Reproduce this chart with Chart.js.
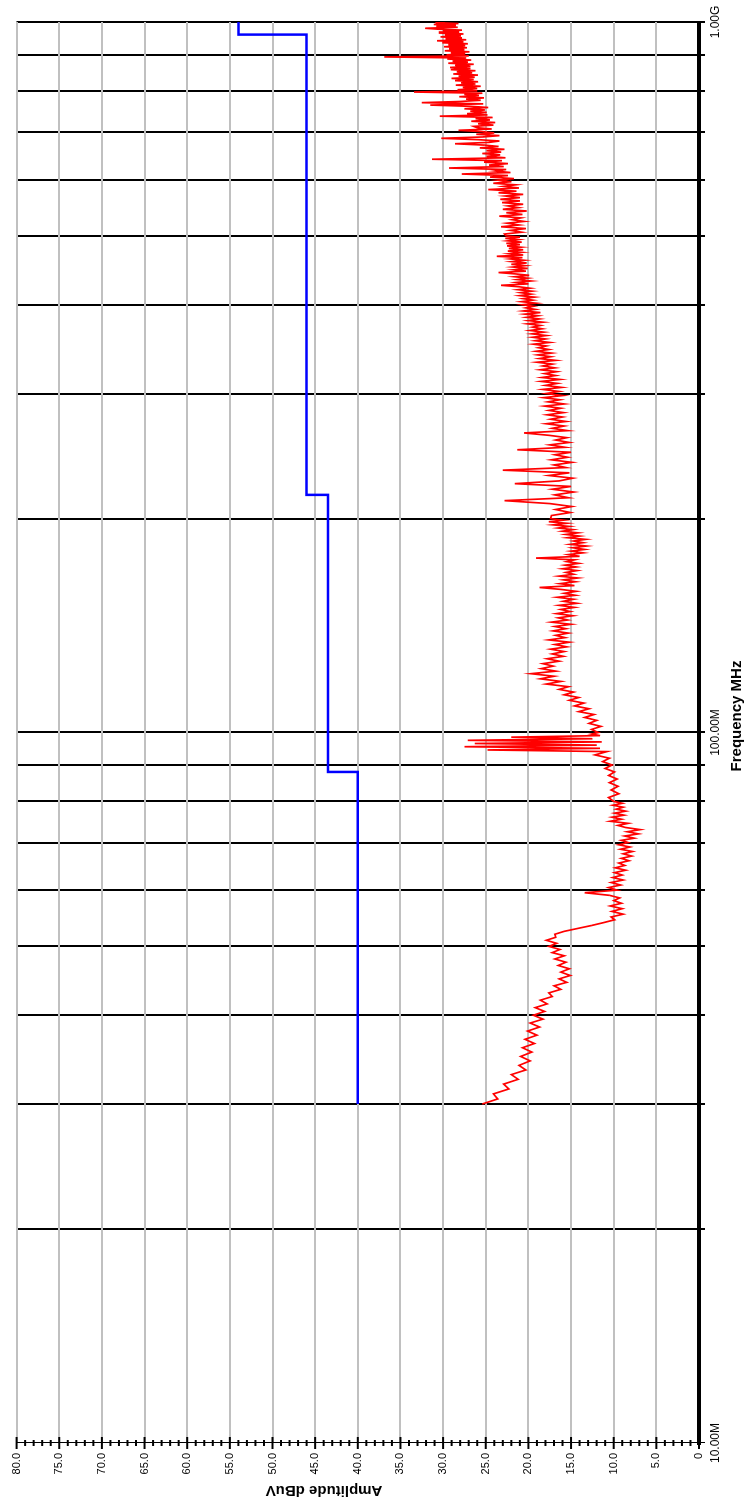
<!DOCTYPE html>
<html><head><meta charset="utf-8">
<script src="https://cdn.jsdelivr.net/npm/chart.js@4.4.1/dist/chart.umd.min.js"></script>
<style>
html,body{margin:0;padding:0;background:#fff;overflow:hidden;width:749px;height:1505px;}
#wrap{position:absolute;left:0;top:0;width:1505px;height:749px;transform-origin:0 0;transform:translateY(1505px) rotate(-90deg);}
canvas{display:block;}
</style></head><body>
<div id="wrap"><canvas id="c" width="1505" height="749"></canvas></div>
<script>
// ---- Axis definitions ----
const freqGrid = [10,20,30,40,50,60,70,80,90,100,200,300,400,500,600,700,800,900,1000];
const freqTickLabels = {10:'10.00M',100:'100.00M',1000:'1.00G'};
const ampTicks = [0,5,10,15,20,25,30,35,40,45,50,55,60,65,70,75,80];

// ---- Limit line (blue) ----
const limitFreq = [30,88,216,960,1000];
const limitAmp  = [40,43.5,46,54,54];

// ---- Measured trace (red), MHz / dBuV ----
const seg1Freq = [30,30.5,31,31.5,32,32.5,33,33.5,34,34.5,35,35.5,36,36.5,37,37.5,38,38.5,39,39.5,40,40.5,41,41.5,42,42.5,43,43.5,44,44.5,45,45.5,46,46.5,47,47.5,48,48.5,49,49.5,50,50.5,51,51.5,52,52.5,53,53.5,54,54.5,55,55.5,56,56.5,57,57.5,58,58.5,59,59.5,60,60.5,61,61.5,62,62.5,63,63.5,64,64.5,65,65.5,66,66.5,67,67.5,68,68.5,69,69.5,70,70.5,71,71.5,72,72.5,73,73.5,74,74.5,75,75.5,76,76.5,77,77.5,78,78.5,79,79.5,80];
const seg1Amp = [25.4,23.6,24.1,22.3,22.9,21.2,22.0,20.3,21.1,19.8,20.9,19.6,20.7,19.3,20.4,19.0,20.1,18.7,19.8,18.3,19.4,18.1,19.2,17.8,18.6,17.2,17.6,16.2,17.0,15.5,16.4,15.1,16.2,15.2,16.5,15.6,16.9,15.8,17.2,16.3,17.6,16.7,17.9,16.8,16.9,15.8,14.2,12.6,11.2,9.9,10.3,8.9,10.2,9.0,10.4,9.1,10.0,9.3,10.5,13.4,9.6,10.6,9.2,10.3,8.9,10.1,9.0,9.9,8.6,9.8,8.7,9.4,8.2,9.1,7.9,8.9,7.8,9.2,8.1,9.4,8.3,9.1,7.6,8.7,7.1,8.4,6.9,8.6,9.5,8.3,10.4,9.1,10.2,8.8,9.9,8.6,9.7,8.9,10.1,9.0,10.0];
const seg2Freq = [81,82,83,84,85,86,87,88,89,90,91,92,93,94,94.5,95,95.5,96,96.5,97,97.5,98,98.5,99,99.5,100];
const seg2Amp = [10.6,9.4,10.3,9.5,10.5,9.6,10.6,9.9,11.0,10.2,11.3,10.5,12.2,10.8,24.8,11.6,27.5,12.0,26.3,11.4,27.1,12.5,22.0,11.6,12.6,11.8];
const seg3Freq = [101,102,103,104,105,106,107,108,109,110,111,112,113,114,115,116,117,118,119,120,121,122,123,124,125,126,127,128,129,130,131,132,133,134,135,136,137,138,139,140,141,142,143,144,145,146,147,148,149,150,151,152,153,154,155,156,157,158,159,160,161,162,163,164,165,166,167,168,169,170,171,172,173,174,175,176,177,178,179,180,181,182,183,184,185,186,187,188,189,190,191,192,193,194,195,196,197,198,199,200];
const seg3Amp = [12.6,11.5,12.9,12.0,13.4,12.3,14.1,12.9,14.6,13.5,15.2,14.1,15.8,14.7,16.4,15.3,17.9,16.2,18.6,17.0,19.7,16.8,18.5,17.1,18.3,16.4,17.8,15.9,17.2,15.8,17.4,15.5,16.9,15.2,17.6,15.7,16.8,15.3,17.1,15.6,16.9,15.0,17.3,15.4,16.5,14.8,16.7,15.1,16.2,14.6,16.4,14.3,15.9,14.7,16.6,14.5,15.8,14.4,16.2,18.7,14.6,16.3,14.5,15.9,14.2,16.4,14.7,15.6,14.3,16.0,14.4,15.7,14.1,15.5,14.6,19.1,14.0,15.3,13.6,15.0,13.4,14.8,13.2,15.1,13.6,14.7,13.3,15.4,14.0,15.6,14.2,16.0,14.8,16.5,15.2,17.1,15.5,17.6,15.9,17.4];
const seg4Freq = [202,204,206,208,210,212,214,216,218,220,222,224,226,228,230,232,234,236,238,240,242,244,246,248,250,252,254,256,258,260,262,264,266,268,270,272,274,276,278,280,282,284,286,288,290,292,294,296,298,300,302,304,306,308,310,312,314,316,318,320,322,324,326,328,330,332,334,336,338,340,342,344,346,348,350,352,354,356,358,360,362,364,366,368,370,372,374,376,378,380,382,384,386,388,390,392,394,396,398,400,402,404,406,408,410,412,414,416,418,420,422,424,426,428,430,432,434,436,438,440,442,444,446,448,450,452,454,456,458,460,462,464,466,468,470,472,474,476,478,480,482,484,486,488,490,492,494,496,498,500];
const seg4Amp = [17.3,15.1,16.8,14.9,17.5,22.8,15.3,16.9,14.7,17.2,15.0,21.6,16.4,14.8,17.6,15.2,23.0,15.6,17.0,14.9,17.3,15.4,16.9,15.0,21.3,15.7,17.5,15.2,16.8,15.5,17.6,20.5,15.4,17.2,15.8,17.9,15.6,17.4,16.0,17.8,15.9,17.6,16.2,18.1,15.8,17.7,16.3,18.2,16.0,17.9,16.4,18.3,16.1,18.0,16.6,18.5,16.3,18.4,16.8,18.1,16.7,18.6,16.9,18.3,17.2,19.0,16.8,18.7,17.4,18.9,17.3,19.1,17.6,18.8,17.9,19.4,17.5,19.2,18.0,19.5,17.9,19.6,18.2,19.8,18.4,19.5,18.6,20.1,18.3,20.0,18.7,20.2,18.9,20.4,18.6,20.6,19.2,20.3,19.4,20.7,19.1,20.8,19.5,20.6,19.3,21.0,19.7,20.9,19.6,21.2,19.8,21.1,23.2,20.0,21.4,19.7,21.3,20.1,21.6,19.9,21.5,23.5,20.3,21.7,20.1,21.8,20.4,22.0,20.2,21.9,20.5,22.1,20.7,23.7,20.6,22.2,20.8,22.4,20.6,22.3,20.9,22.5,21.0,22.6,20.8,22.4,21.2,22.7,21.0,22.6];
const seg5Freq = [503,506,509,512,515,518,521,524,527,530,533,536,539,542,545,548,551,554,557,560,563,566,569,572,575,578,581,584,587,590,593,596,599,602,605,608,611,614,617,620,623,626,629,632,635,638,641,644,647,650,653,656,659,662,665,668,671,674,677,680,683,686,689,692,695,698,701,704,707,710,713,716,719,722,725,728,731,734,737,740,743,746,749,752,755,758,761,764,767,770,773,776,779,782,785,788,791,794,797,800,803,806,809,812,815,818,821,824,827,830,833,836,839,842,845,848,851,854,857,860,863,866,869,872,875,878,881,884,887,890,893,896,899,902,905,908,911,914,917,920,923,926,929,932,935,938,941,944,947,950,953,956,959,962,965,968,971,974,977,980,983,986,989,992,995,998,1000];
const seg5Amp = [22.8,20.8,22.1,20.3,23.2,21.1,22.5,20.5,21.9,20.9,23.4,20.7,22.6,20.2,23.0,21.2,22.4,20.6,23.1,21.0,23.3,21.0,22.7,20.6,23.5,21.4,24.7,21.1,22.9,21.5,24.1,22.0,23.6,21.7,24.5,22.4,27.8,22.1,23.9,22.6,29.3,22.9,24.6,22.4,25.2,23.1,31.3,22.7,24.9,23.3,25.4,23.2,24.9,22.8,25.7,23.5,25.1,28.6,24.6,23.4,25.9,30.2,25.3,23.4,26.1,24.0,25.5,28.2,24.3,26.0,26.4,24.1,25.9,23.9,26.7,24.5,26.2,24.2,30.4,24.8,27.2,24.9,26.8,25.1,27.5,24.7,26.9,31.5,25.3,32.5,27.9,25.6,27.3,25.2,28.1,25.8,27.5,25.4,33.4,26.0,28.3,26.0,27.7,25.6,28.5,26.2,27.9,25.9,28.6,26.4,29.0,26.3,28.2,25.9,28.8,26.6,28.4,26.2,29.1,26.8,29.2,26.8,28.6,26.4,29.4,27.1,28.9,26.7,29.5,27.3,36.9,27.0,29.6,27.4,29.1,26.9,29.8,27.5,29.3,27.2,29.9,27.4,29.4,27.1,30.1,27.6,30.7,27.3,29.7,27.8,30.3,27.9,29.8,27.6,30.5,28.1,30.0,27.8,30.6,32.1,28.3,30.8,28.5,31.1,28.2,30.9,29.8];

const FONT = "'Liberation Sans', Arial, sans-serif";

const measFreq = [].concat(seg1Freq, seg2Freq, seg3Freq, seg4Freq, seg5Freq);
const measAmp  = [].concat(seg1Amp, seg2Amp, seg3Amp, seg4Amp, seg5Amp);
const measData = measFreq.map((f,i)=>({x:f, y:measAmp[i]}));
const limitData = limitFreq.map((f,i)=>({x:f, y:limitAmp[i]}));

const ampTickMarks = {
  id:'ampTickMarks',
  afterDraw(chart){
    const ys = chart.scales.y, ctx = chart.ctx, x0 = chart.chartArea.left;
    ctx.save(); ctx.strokeStyle='#000'; ctx.lineWidth=2;
    for(let v=ys.min; v<=ys.max; v++){
      const p = ys.getPixelForValue(v);
      const len = (v%5===0)?6:3;
      ctx.beginPath(); ctx.moveTo(x0-len,p); ctx.lineTo(x0+len,p); ctx.stroke();
    }
    ctx.restore();
  }
};
const axisTitles = {
  id:'axisTitles',
  afterDraw(chart){
    const ctx = chart.ctx;
    ctx.save(); ctx.fillStyle='#000'; ctx.font='bold 15px '+FONT;
    ctx.textAlign='center'; ctx.textBaseline='middle';
    ctx.fillText('Frequency MHz', 789, 737);
    ctx.translate(15, 324); ctx.rotate(-Math.PI/2);
    ctx.fillText('Amplitude dBuV', 0, 0);
    ctx.restore();
  }
};

new Chart(document.getElementById('c'), {
  type:'line',
  data:{ datasets:[
    { label:'Limit', data:limitData, borderColor:'#0000ff', borderWidth:2.5, pointRadius:0, stepped:'before', fill:false },
    { label:'Measured', data:measData, borderColor:'#ff0000', borderWidth:1.7, pointRadius:0, tension:0, fill:false }
  ]},
  options:{
    responsive:false, animation:false, devicePixelRatio:1,
    layout:{ padding:{ top:12, right:22, left:0, bottom:0 } },
    plugins:{ legend:{display:false}, tooltip:{enabled:false} },
    scales:{
      x:{ type:'logarithmic', min:10, max:1000, position:'bottom',
        afterBuildTicks: s => { s.ticks = freqGrid.map(v=>({value:v})); },
        afterFit: s => { s.height = 50; },
        ticks:{ autoSkip:false, maxRotation:0, minRotation:0, padding:3, color:'#000', font:{family:FONT,size:12}, callback:(v)=>freqTickLabels[v]||'' },
        grid:{ color:'#000', lineWidth: c => (c.tick && c.tick.value===10) ? 1 : 2, tickLength:6, drawTicks:true },
        border:{ display:true, color:'#000', width:4 }
      },
      y:{ type:'linear', min:0, max:80, position:'left',
        afterBuildTicks: s => { s.ticks = ampTicks.map(v=>({value:v})); },
        afterFit: s => { s.width = 62; },
        ticks:{ padding:10, color:'#000', font:{family:FONT,size:11}, callback:(v)=> v===0 ? '0' : Number(v).toFixed(1) },
        grid:{ color:'#c0c0c0', lineWidth:2, drawTicks:false },
        border:{ display:true, color:'#000', width:1 }
      }
    }
  },
  plugins:[ampTickMarks, axisTitles]
});
</script>
</body></html>
